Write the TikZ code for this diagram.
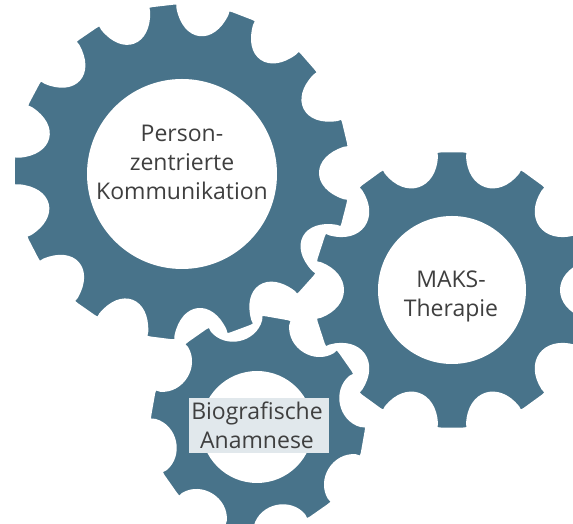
\documentclass[tikz,border=0pt]{standalone}
\usepackage{fontspec}
\setmainfont{Open Sans}
\definecolor{gearblue}{HTML}{48738A}
\definecolor{labelgray}{HTML}{3F3F3F}
\definecolor{boxgray}{HTML}{E1E8EC}

\tikzset{
  gear/.style={fill=gearblue, draw=white, line width=7pt, line join=round},
  hub/.style={fill=white},
  gtext/.style={text=labelgray, font=\fontsize{23}{29}\selectfont, inner sep=0pt, anchor=base},
}

% Gear outline with flat, rounded tooth tips and U-shaped gaps.
% #1,#2 centre  #3 teeth  #4 angle of first tooth  #5 tip radius
% #6 half tip angle  #7 gap depth of the control points
% #8 inward lean of the flanks (degrees)  #9 corner size
\newcommand{\gearshape}[9]{%
  \pgfmathsetmacro\gstep{360/#3}%
  \pgfmathsetmacro\gca{#9/#5*57.29578}%
  \pgfmathsetmacro\gtip{#5-#9}%
  \pgfmathsetmacro\gin{#5-#7}%
  \pgfmathtruncatemacro\glast{#3-1}%
  \fill[gear] ([shift={(#1,#2)}]#4-#6:\gtip)
    \foreach \k in {0,...,\glast} {
      .. controls ([shift={(#1,#2)}]#4+\k*\gstep-#6:#5)
      .. ([shift={(#1,#2)}]#4+\k*\gstep-#6+\gca:#5)
      -- ([shift={(#1,#2)}]#4+\k*\gstep+#6-\gca:#5)
      .. controls ([shift={(#1,#2)}]#4+\k*\gstep+#6:#5)
      .. ([shift={(#1,#2)}]#4+\k*\gstep+#6:\gtip)
      .. controls ([shift={(#1,#2)}]#4+\k*\gstep+#6+#8:\gin)
             and ([shift={(#1,#2)}]#4+\k*\gstep+\gstep-#6-#8:\gin)
      .. ([shift={(#1,#2)}]#4+\k*\gstep+\gstep-#6:\gtip)
    } -- cycle;
}

\begin{document}
\begin{tikzpicture}[x=1pt, y=1pt]
  \useasboundingbox (0,0) rectangle (573,524);

  % large gear, 13 teeth
  \gearshape{182}{352}{13}{13.5}{171}{5.86}{37.2}{2.5}{7}
  % right gear, 10 teeth
  \gearshape{452}{234}{10}{18}{141.5}{7.49}{36}{3}{7}
  % small gear, 8 teeth
  \gearshape{258}{101}{8}{35}{110.5}{9.59}{26.3}{3.5}{7}

  % hubs
  \fill[hub] (182,350) circle[radius=95];
  \fill[hub] (452,234) circle[radius=74];
  \fill[hub] (257,97) circle[radius=56];

  % labels
  \node[gtext] (k1) at (182,382) {Person-};
  \node[gtext] (k2) at (182,353) {zentrierte};
  \node[gtext] (k3) at (182,324) {Kommunikation};

  \node[gtext] (m1) at (451,236) {MAKS-};
  \node[gtext] (m2) at (451,207) {Therapie};

  \fill[boxgray] (189,71) rectangle (329,126);
  \node[gtext] (b1) at (257,104) {Biografische};
  \node[gtext] (b2) at (257,75) {Anamnese};
\end{tikzpicture}
\end{document}
